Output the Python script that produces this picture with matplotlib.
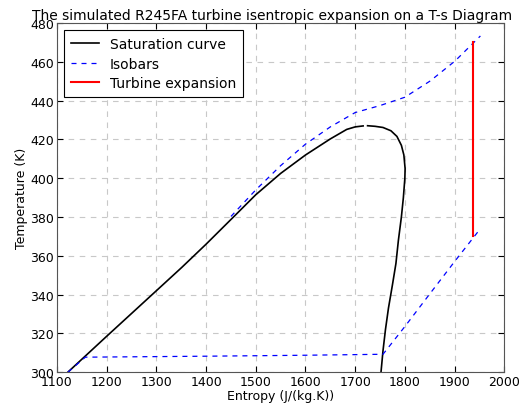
import numpy as np
import matplotlib
matplotlib.use('Agg')
import matplotlib.pyplot as plt

# saturation dome (liquid side, then vapour side)
sat_liq_s = [1122, 1200, 1300, 1351, 1400, 1455, 1500, 1550, 1600, 1650, 1683, 1700, 1716]
sat_liq_T = [300, 318.5, 342, 354, 366, 380, 391.5, 402.5, 412, 420.3, 425.2, 426.5, 427.0]
sat_vap_s = [1725, 1740, 1756, 1772, 1784, 1793, 1798, 1800.5, 1800, 1797, 1793, 1787, 1782, 1775, 1767, 1761, 1756, 1752]
sat_vap_T = [427.1, 426.8, 426.2, 424.5, 421.6, 417, 412, 405, 400, 390, 380, 368, 356, 345, 333, 322, 311, 300]

# isobars
lowp_s = [1122, 1157, 1400, 1600, 1756, 1800, 1850, 1900, 1952]
lowp_T = [300, 307.7, 308.2, 308.7, 309.2, 323.5, 340.3, 357, 374]
highp_s = [1450, 1500, 1550, 1600, 1650, 1700, 1750, 1800, 1851, 1901, 1952]
highp_T = [380.3, 394, 406.5, 417.6, 426.5, 433.9, 437.5, 441.8, 450.2, 460.5, 473.4]

# turbine expansion
turb_s = [1937, 1937]
turb_T = [470.3, 370]

plt.rcParams['font.size'] = 9
fig = plt.figure(figsize=(5.28, 4.10), dpi=100)
ax = fig.add_axes([0.108, 0.090, 0.847, 0.851])

ax.plot(sat_liq_s, sat_liq_T, 'k-', lw=1.2, label='Saturation curve')
ax.plot(sat_vap_s, sat_vap_T, 'k-', lw=1.2)
ax.plot(lowp_s, lowp_T, color='blue', ls='--', dashes=(4, 4), lw=0.9, label='Isobars')
ax.plot(highp_s, highp_T, color='blue', ls='--', dashes=(4, 4), lw=0.9)
ax.plot(turb_s, turb_T, 'r-', lw=1.5, label='Turbine expansion')

ax.set_xlim(1100, 2000)
ax.set_ylim(300, 480)
ax.set_xticks(np.arange(1100, 2001, 100))
ax.set_yticks(np.arange(300, 481, 20))
ax.tick_params(direction='in', length=4, labelsize=9, pad=2, top=True, right=True)
ax.grid(True, color='#c8c8c8', linestyle='--', lw=0.8, dashes=(5, 5))
for sp in ax.spines.values():
    sp.set_color('#555555')

ax.set_xlabel('Entropy (J/(kg.K))', labelpad=1)
ax.set_ylabel('Temperature (K)', labelpad=2)
ax.set_title('The simulated R245FA turbine isentropic expansion on a T-s Diagram',
             fontsize=10, pad=3, x=0.481)

leg = ax.legend(loc='upper left', fontsize=10, fancybox=False, framealpha=1,
                edgecolor='black', handlelength=2.0, borderpad=0.5, labelspacing=0.4)
leg.get_frame().set_linewidth(0.8)

fig.savefig('out.png', dpi=100)
